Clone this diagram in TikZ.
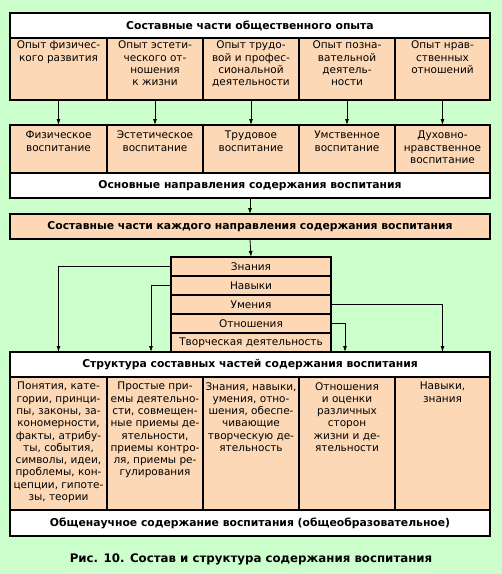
\documentclass[tikz,border=0pt]{standalone}
\usepackage{fontspec}
\setmainfont{DejaVu Sans}
\usetikzlibrary{arrows.meta}
\definecolor{fon}{RGB}{204,255,204}
\definecolor{pesok}{RGB}{253,216,182}
\tikzset{
  ramka/.style={draw, line width=2pt, fill=pesok, inner sep=0pt, outer sep=0pt, anchor=north west, font=\fontsize{10.5}{12}\selectfont},
  shapka/.style={ramka, fill=white, font=\bfseries\fontsize{10.8}{12}\selectfont},
  tekst/.style={anchor=north, align=center, inner sep=0pt, font=\fontsize{10.5}{12.3}\selectfont},
  strel/.style={-{Latex[length=6pt,width=4pt]}, line width=0.8pt},
}
\begin{document}
\begin{tikzpicture}[x=1pt,y=-1pt]
    \useasboundingbox[fill=fon] (0,0) rectangle (502,574);
    % opyt
    \node[shapka, minimum width=480, minimum height=25] (opyt) at (10,13) {Составные части общественного опыта};
    \node[ramka, minimum width=97, minimum height=62] (o1) at (10,38) {};
    \node[ramka, minimum width=96, minimum height=62] (o2) at (107,38) {};
    \node[ramka, minimum width=96, minimum height=62] (o3) at (203,38) {};
    \node[ramka, minimum width=96, minimum height=62] (o4) at (299,38) {};
    \node[ramka, minimum width=95, minimum height=62] (o5) at (395,38) {};
    \node[tekst] (t1) at ([yshift=-3pt]o1.north) {Опыт физичес-\\кого развития};
    \node[tekst] (t2) at ([yshift=-3pt]o2.north) {Опыт эстети-\\ческого от-\\ношения\\к жизни};
    \node[tekst] (t3) at ([yshift=-3pt]o3.north) {Опыт трудо-\\вой и профес-\\сиональной\\деятельности};
    \node[tekst] (t4) at ([yshift=-3pt]o4.north) {Опыт позна-\\вательной\\деятель-\\ности};
    \node[tekst] (t5) at ([yshift=-3pt]o5.north) {Опыт нрав-\\ственных\\отношений};
    % napravleniya
    \node[ramka, minimum width=97, minimum height=48] (v1) at (10,125) {};
    \node[ramka, minimum width=96, minimum height=48] (v2) at (107,125) {};
    \node[ramka, minimum width=96, minimum height=48] (v3) at (203,125) {};
    \node[ramka, minimum width=96, minimum height=48] (v4) at (299,125) {};
    \node[ramka, minimum width=95, minimum height=48] (v5) at (395,125) {};
    \node[tekst] (w1) at ([yshift=-6pt]v1.north) {Физическое\\воспитание};
    \node[tekst] (w2) at ([yshift=-6pt]v2.north) {Эстетическое\\воспитание};
    \node[tekst] (w3) at ([yshift=-6pt]v3.north) {Трудовое\\воспитание};
    \node[tekst] (w4) at ([yshift=-6pt]v4.north) {Умственное\\воспитание};
    \node[tekst] (w5) at ([yshift=-6pt]v5.north) {Духовно-\\нравственное\\воспитание};
    \node[shapka, minimum width=480, minimum height=25] (osn) at (10,173) {Основные направления содержания воспитания};
    \foreach \i in {1,...,5}
        \draw[strel] (o\i.south) -- (v\i.north);
    % sostavnye chasti
    \node[shapka, fill=pesok, minimum width=480, minimum height=25] (sost) at (10,214) {Составные части каждого направления содержания воспитания};
    \draw[strel] (osn.south) -- (sost.north);
    % spisok
    \node[ramka, minimum width=160, minimum height=19] (zn) at (171,257) {Знания};
    \node[ramka, minimum width=160, minimum height=19] (nav) at (171,276) {Навыки};
    \node[ramka, minimum width=160, minimum height=19] (um) at (171,295) {Умения};
    \node[ramka, minimum width=160, minimum height=19] (otn) at (171,314) {Отношения};
    \node[ramka, minimum width=160, minimum height=19] (tvor) at (171,333) {Творческая деятельность};
    \draw[strel] (sost.south) -- (zn.north);
    % struktura
    \node[shapka, minimum width=480, minimum height=25] (str) at (10,352) {Структура составных частей содержания воспитания};
    \node[ramka, minimum width=97, minimum height=133] (k1) at (10,377) {};
    \node[ramka, minimum width=96, minimum height=133] (k2) at (107,377) {};
    \node[ramka, minimum width=96, minimum height=133] (k3) at (203,377) {};
    \node[ramka, minimum width=96, minimum height=133] (k4) at (299,377) {};
    \node[ramka, minimum width=95, minimum height=133] (k5) at (395,377) {};
    \node[tekst] (s1) at ([yshift=-5pt]k1.north) {Понятия, кате-\\гории, принци-\\пы, законы, за-\\кономерности,\\факты, атрибу-\\ты, события,\\символы, идеи,\\проблемы, кон-\\цепции, гипоте-\\зы, теории};
    \node[tekst] (s2) at ([yshift=-5pt]k2.north) {Простые при-\\емы деятельно-\\сти, совмещен-\\ные приемы де-\\ятельности,\\приемы контро-\\ля, приемы ре-\\гулирования};
    \node[tekst] (s3) at ([yshift=-5pt]k3.north) {Знания, навыки,\\умения, отно-\\шения, обеспе-\\чивающие\\творческую де-\\ятельность};
    \node[tekst] (s4) at ([yshift=-5pt]k4.north) {Отношения\\и оценки\\различных\\сторон\\жизни и де-\\ятельности};
    \node[tekst] (s5) at ([yshift=-5pt]k5.north) {Навыки,\\знания};
    \node[shapka, minimum width=480, minimum height=26] (obsh) at (10,510) {Общенаучное содержание воспитания (общеобразовательное)};
    \draw[strel] (zn.west) -| (k1 |- str.north);
    \draw[strel] (nav.west) -| ([xshift=-4pt]k2.north |- str.north);
    \draw[strel] (um.east) -| (k5 |- str.north);
    \draw[strel] (otn.east) -| ([xshift=-2pt]k4.north |- str.north);
    % podpis
    \node[font=\bfseries\fontsize{11.8}{14}\selectfont] (ris) at (251,559) {Рис. 10. Состав и структура содержания воспитания};
\end{tikzpicture}
\end{document}
